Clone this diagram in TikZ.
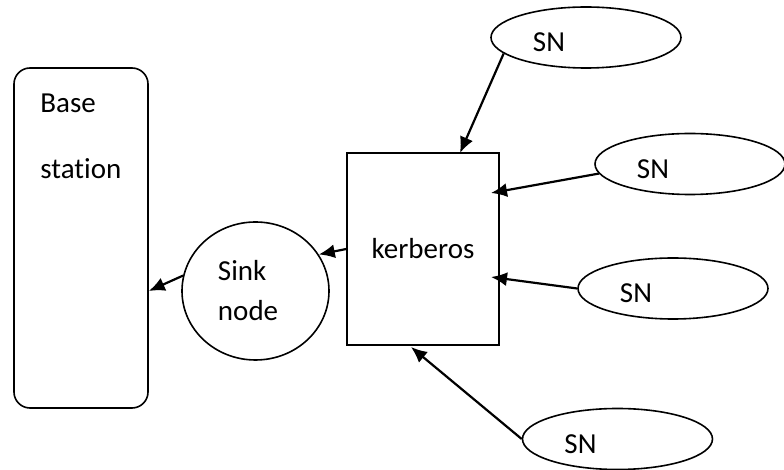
\documentclass[tikz,border=0pt]{standalone}
\usepackage{fontspec}
\setmainfont{Carlito}[Ligatures={NoCommon}]
\usepackage{tikz}
\usetikzlibrary{shapes.geometric}
\usetikzlibrary{arrows.meta}
\tikzset{>=stealth}
\tikzstyle{line} = [draw, -{Latex[length=8pt,width=7pt]}, line width=1.1pt]

\begin{document}
\begin{tikzpicture}[x=0.5pt,y=-0.5pt,
      font=\fontsize{14.5}{17.5}\selectfont,
      sn/.style={draw,
      ellipse,
      line width=0.8pt,
      inner sep=0pt,
      minimum width=95pt,
      minimum height=30.5pt,
      text height=14.3pt,
      text depth=0pt},
      station/.style={draw, rectangle, rounded corners=8pt, line width=0.8pt,
      minimum width=67pt, minimum height=170pt},
      sink/.style={draw, ellipse, line width=0.8pt,
      minimum width=73.5pt, minimum height=69pt,
      text width=37.5pt, align=left},
      server/.style={draw, rectangle, line width=0.8pt,
      minimum width=76pt, minimum height=96pt}]
    \useasboundingbox (0,0) rectangle (784,470);
    %% Base station
    \node [station] at (81,238) (base) {};
    \node [anchor=north west, inner sep=0pt, align=left] at (40,93) (basetext) {Base\\[15.5pt]station};
    %% Sink
    \node [sink] at (255.5,291) (sink) {Sink\\[2.5pt]node};
    %% Kerberos
    \node [server] at (423,249) (ker) {kerberos};
    %% Sensor nodes
    \node [sn] at (586,37.5) (sn1) {SN\hspace*{37pt}};
    \node [sn] at (690,164) (sn2) {SN\hspace*{37pt}};
    \node [sn] at (673,288.5) (sn3) {SN\hspace*{37pt}};
    \node [sn] at (617.5,439) (sn4) {SN\hspace*{37pt}};
    %% Entry points on kerberos
    \coordinate (kin1) at (460,153);
    \coordinate (kin2) at (491,193);
    \coordinate (kin3) at (491,277);
    \coordinate (kin4) at (411,347);
    %%
    %% SN to kerberos
    \path [line] (sn1.191) to (kin1);
    \path [line] (sn2.186) to (kin2);
    \path [line] (sn3.west) to (kin3);
    \path [line] (sn4.west) to (kin4);
    %% Kerberos to sink to base
    \path [line] (ker.west) to (sink.30);
    \path [line] (sink.168) to (base.east |- sink);
  \end{tikzpicture}
\end{document}
